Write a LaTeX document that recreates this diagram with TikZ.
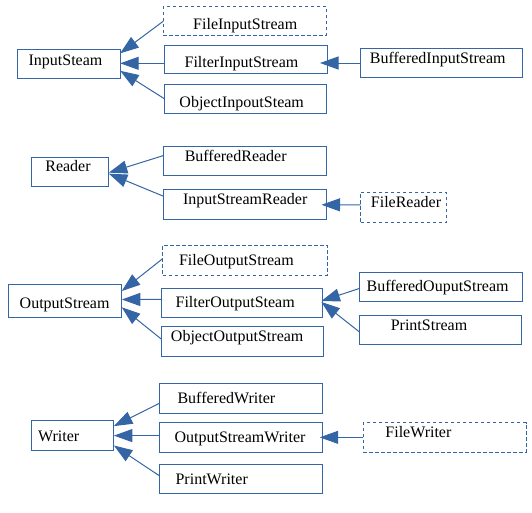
\documentclass[tikz,border=0pt]{standalone}
\usepackage{fontspec}
\setmainfont{Liberation Serif}
\usetikzlibrary{arrows.meta,calc}
\definecolor{lo}{HTML}{3465A4}
\tikzset{
  cls/.style={draw=lo, line width=1pt, inner sep=0pt, outer sep=0pt},
  iface/.style={cls, dash pattern=on 3.5pt off 2.5pt},
  lbl/.style={anchor=base, inner sep=0pt, outer sep=0pt, font=\fontsize{16}{19}\selectfont},
  inh/.style={draw=lo, line width=1pt, -{Triangle[length=18.5pt,width=13pt]}},
}
\begin{document}
\begin{tikzpicture}[x=1pt,y=-1pt]
\useasboundingbox (0,0) rectangle (532,512);
% ---------- InputStream group
\node[cls, minimum width=103pt, minimum height=29pt] (is) at (68.7,63.8) {};
\node[lbl] (is-t) at (65.5,65) {InputSteam};
\node[iface, minimum width=163.2pt, minimum height=28.5pt] (fis) at (244.9,20.9) {};
\node[lbl] (fis-t) at (245.2,29.3) {FileInputStream};
\node[cls, minimum width=163pt, minimum height=27.6pt] (filis) at (245.5,59.5) {};
\node[lbl] (filis-t) at (241.5,67.7) {FilterInputStream};
\node[cls, minimum width=162.5pt, minimum height=29pt] (ois) at (245.25,98.5) {};
\node[lbl] (ois-t) at (241.7,107.5) {ObjectInpoutSteam};
\node[cls, minimum width=162.8pt, minimum height=29.3pt] (bis) at (441.4,63) {};
\node[lbl] (bis-t) at (437.7,63.6) {BufferedInputStream};
\draw[inh] ($(fis.west)+(0,0.3)$) -- ($(is.east)+(0,-10.5)$);
\draw[inh] ($(filis.west)+(0,3.8)$) -- ($(is.east)+(0,-0.5)$);
\draw[inh] (ois.west) -- ($(is.east)+(0,7)$);
\draw[inh] (bis.west) -- ($(filis.east)+(-7,3.5)$);
% ---------- Reader group
\node[cls, minimum width=77.5pt, minimum height=28.9pt] (rd) at (70.05,171.65) {};
\node[lbl] (rd-t) at (68,171.5) {Reader};
\node[cls, minimum width=162.9pt, minimum height=29.6pt] (brd) at (245.05,161.1) {};
\node[lbl] (brd-t) at (235.7,161.3) {BufferedReader};
\node[cls, minimum width=162.9pt, minimum height=29.6pt] (isr) at (245.05,204.3) {};
\node[lbl] (isr-t) at (245.2,204.1) {InputStreamReader};
\node[iface, minimum width=85.8pt, minimum height=30.3pt] (frd) at (403.4,207.35) {};
\node[lbl] (frd-t) at (406,207.6) {FileReader};
\draw[inh] ($(brd.west)+(0,-5.6)$) -- ($(rd.east)+(0,1)$);
\draw[inh] ($(isr.west)+(0,-8)$) -- ($(rd.east)+(0,2)$);
\draw[inh] ($(frd.west)+(0,-2.5)$) -- ($(isr.east)+(-5,0.5)$);
% ---------- OutputStream group
\node[iface, minimum width=164.6pt, minimum height=29.9pt] (fos) at (244.9,260.05) {};
\node[lbl] (fos-t) at (236.4,265.5) {FileOutputStream};
\node[cls, minimum width=113.3pt, minimum height=33.4pt] (os) at (65.15,300.9) {};
\node[lbl] (os-t) at (64.6,308) {OutputStream};
\node[cls, minimum width=160.8pt, minimum height=29.3pt] (filos) at (242,302.95) {};
\node[lbl] (filos-t) at (235.2,307.3) {FilterOutputSteam};
\node[cls, minimum width=162.2pt, minimum height=29.6pt] (oos) at (242.7,341.5) {};
\node[lbl] (oos-t) at (237.2,341.4) {ObjectOutputStream};
\node[cls, minimum width=162.2pt, minimum height=29.6pt] (bos) at (441,287.1) {};
\node[lbl] (bos-t) at (437.6,291.7) {BufferedOuputStream};
\node[cls, minimum width=162.2pt, minimum height=29.3pt] (ps) at (440.3,330.15) {};
\node[lbl] (ps-t) at (429,330.1) {PrintStream};
\draw[inh] ($(fos.west)+(0,-1.35)$) -- ($(os.east)+(0,-9.9)$);
\draw[inh] ($(filos.west)+(0,-3.5)$) -- ($(os.east)+(0,-1.4)$);
\draw[inh] ($(oos.west)+(0,-2.2)$) -- ($(os.east)+(0,6.4)$);
\draw[inh] ($(bos.west)+(0,1.2)$) -- ($(filos.east)+(-1,-2)$);
\draw[inh] ($(ps.west)+(0,1.6)$) -- ($(filos.east)+(-1,-1)$);
% ---------- Writer group
\node[cls, minimum width=162.2pt, minimum height=29.9pt] (bw) at (241,398.55) {};
\node[lbl] (bw-t) at (226.4,403.3) {BufferedWriter};
\node[cls, minimum width=82.6pt, minimum height=30pt] (wr) at (72.6,435.3) {};
\node[lbl] (wr-t) at (58.7,441.4) {Writer};
\node[cls, minimum width=162.2pt, minimum height=29.3pt] (osw) at (241,437.35) {};
\node[lbl] (osw-t) at (240,442.4) {OutputStreamWriter};
\node[cls, minimum width=162.2pt, minimum height=29.3pt] (pw) at (241,478.85) {};
\node[lbl] (pw-t) at (211.7,484) {PrintWriter};
\node[iface, minimum width=162.9pt, minimum height=29.3pt] (fw) at (444.75,437.35) {};
\node[lbl] (fw-t) at (418.4,437) {FileWriter};
\draw[inh] ($(bw.west)+(0,4.45)$) -- ($(wr.east)+(0,-9.2)$);
\draw[inh] ($(osw.west)+(0,-1.75)$) -- ($(wr.east)+(0,0.3)$);
\draw[inh] ($(pw.west)+(0,-2.75)$) -- ($(wr.east)+(0,10.2)$);
\draw[inh] (fw.west) -- ($(osw.east)+(-2.4,0)$);
\end{tikzpicture}
\end{document}
